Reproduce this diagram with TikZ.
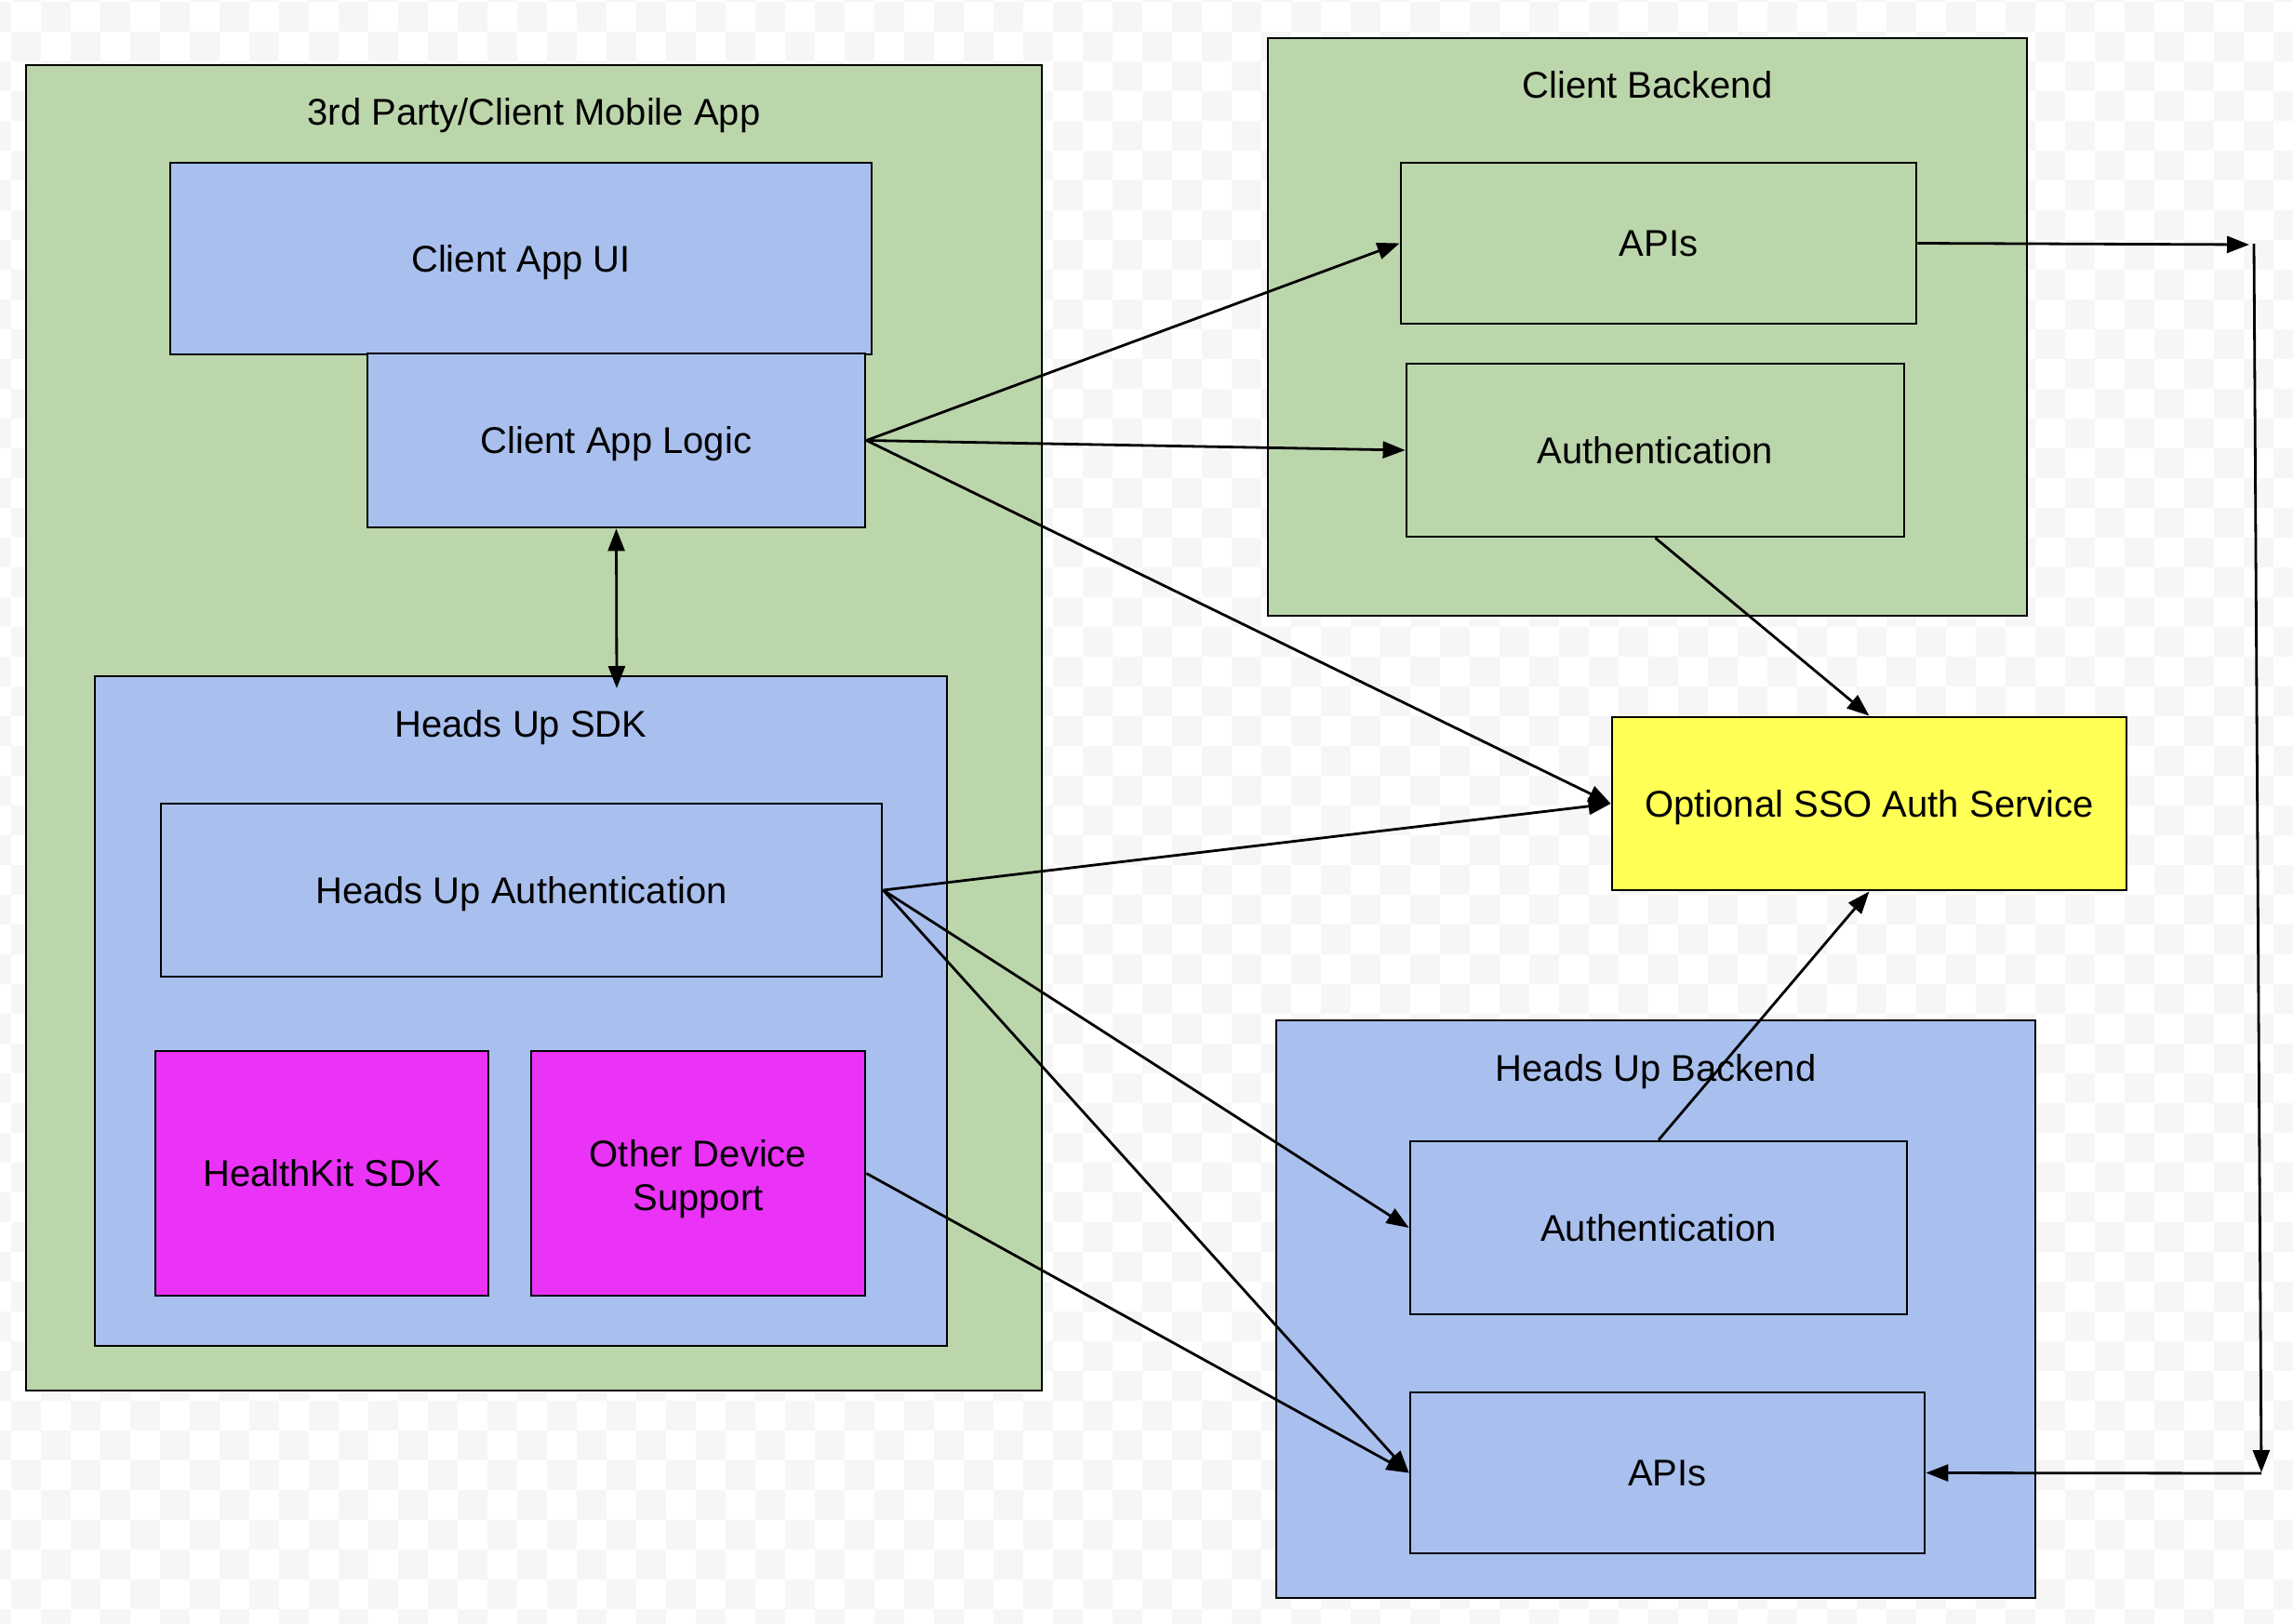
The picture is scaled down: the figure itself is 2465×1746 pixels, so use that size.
\documentclass[tikz,border=0pt]{standalone}
\usepackage{fontspec}
\setmainfont{Liberation Sans}
\usetikzlibrary{arrows.meta}
\definecolor{cgreen}{HTML}{BCD6AB}
\definecolor{cblue}{HTML}{A9C0EE}
\definecolor{cmag}{HTML}{EA33F7}
\definecolor{cyel}{HTML}{FFFF55}
\definecolor{chk}{HTML}{F6F6F6}
\tikzset{
  box/.style n args={2}{draw=black, line width=1.4pt, inner sep=0pt,
    minimum width=#1*0.5pt, minimum height=#2*0.5pt,
    font=\fontsize{20pt}{23.5pt}\selectfont, text height=14.3pt, text depth=0pt},
  ttl/.style={inner sep=0pt, font=\fontsize{20pt}{23.5pt}\selectfont, text height=14.3pt, text depth=0pt},
  mltxt/.style={inner sep=0pt, font=\fontsize{20pt}{23.5pt}\selectfont, align=center},
  conn/.style={line width=1.4pt, -{Triangle[length=12pt,width=9pt]}},
  biconn/.style={line width=1.4pt, {Triangle[length=12pt,width=9pt]}-{Triangle[length=12pt,width=9pt]}}
}
\begin{document}
\begin{tikzpicture}[x=0.5pt,y=-0.5pt]
\useasboundingbox (0,0) rectangle (2465,1746);
% checkerboard background
\begin{scope}
\clip (0,0) rectangle (2465,1746);
\fill[white] (0,0) rectangle (2465,1746);
\foreach \i in {0,...,78}{
  \foreach \j in {0,...,56}{
    \ifodd\numexpr\i+\j\relax
      \fill[chk] ({-20.3+32*\i},{-30.3+32*\j}) rectangle ++(32,32);
    \fi
  }
}
\end{scope}

% 3rd party app
\node[box={1092}{1425}, fill=cgreen] (app) at (574,782.5) {};
\node[ttl] (appT) at (574,120) {3rd Party/Client Mobile App};
\node[box={754}{206}, fill=cblue] (ui) at (560,278) {Client App UI};
\node[box={535}{187}, fill=cblue] (logic) at (662.5,473.5) {Client App Logic};
\node[box={916}{720}, fill=cblue] (sdk) at (560,1087) {};
\node[ttl] (sdkT) at (560,778) {Heads Up SDK};
\node[box={775}{186}, fill=cblue] (hua) at (560.5,957) {Heads Up Authentication};
\node[box={358}{263}, fill=cmag] (hk) at (346,1261.5) {HealthKit SDK};
\node[box={359}{263}, fill=cmag] (ods) at (750.5,1261.5) {};
\node[mltxt] (odsT) at (750.5,1268) {Other Device\\Support};

% client backend
\node[box={816}{621}, fill=cgreen] (cb) at (1771,351.5) {};
\node[ttl] (cbT) at (1771,91) {Client Backend};
\node[box={554}{173}, fill=cgreen] (capi) at (1783,261.5) {APIs};
\node[box={535}{186}, fill=cgreen] (cauth) at (1779.5,484) {Authentication};

% SSO
\node[box={553}{186}, fill=cyel] (sso) at (2009.5,864) {Optional SSO Auth Service};

% heads up backend
\node[box={816}{621}, fill=cblue] (hb) at (1780,1407.5) {};
\node[ttl] (hbT) at (1780,1148) {Heads Up Backend};
\node[box={534}{186}, fill=cblue] (hauth) at (1783,1320) {Authentication};
\node[box={553}{173}, fill=cblue] (hapi) at (1792.5,1583.5) {APIs};

% free ends
\coordinate (sdkin) at (663,740);
\coordinate (r1) at (2418,263);
\coordinate (r2) at (2423,262);
\coordinate (r3) at (2431,1583);
\coordinate (r4) at (2431,1584);

% connectors
\draw[conn] (logic.east) -- (capi.west);
\draw[conn] (logic.east) -- (cauth.west);
\draw[conn] (logic.east) -- (sso.west);
\draw[biconn] (logic.south) -- (sdkin);
\draw[conn] (cauth.south) -- (sso.north);
\draw[conn] (hua.east) -- (sso.west);
\draw[conn] (hua.east) -- (hauth.west);
\draw[conn] (hua.east) -- (hapi.west);
\draw[conn] (ods.east) -- (hapi.west);
\draw[conn] (hauth.north) -- (sso.south);
\draw[conn] (capi.east) -- (r1);
\draw[conn] (r2) -- (r3);
\draw[conn] (r4) -- (hapi.east);
\end{tikzpicture}
\end{document}
